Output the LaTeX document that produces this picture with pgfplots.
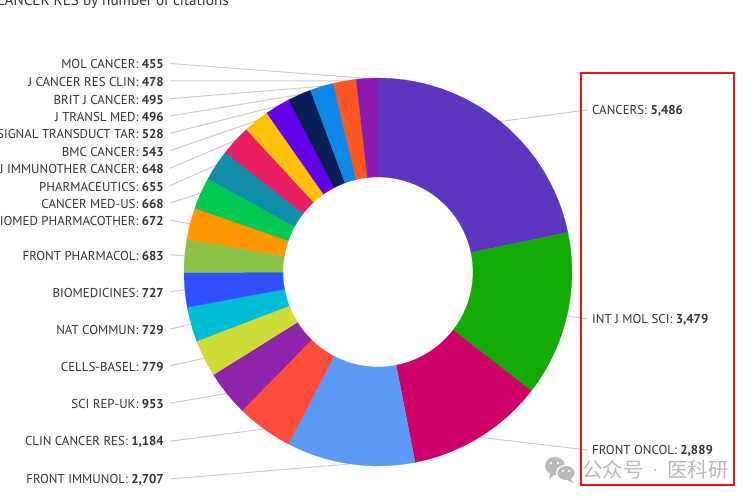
\documentclass[border=0pt]{standalone}
\usepackage{fontspec}
\setmainfont{PT Sans}
\newfontfamily\cjk{Noto Sans CJK SC}
\usepackage{pgfplots}
\pgfplotsset{compat=1.18}

\definecolor{leader}{RGB}{204,204,204}
\definecolor{labeltext}{RGB}{51,51,51}
\definecolor{boxred}{RGB}{232,20,28}
\definecolor{wmark}{RGB}{185,185,185}
\definecolor{s1}{RGB}{94,53,190}
\definecolor{s2}{RGB}{20,170,4}
\definecolor{s3}{RGB}{204,0,102}
\definecolor{s4}{RGB}{92,155,245}
\definecolor{s5}{RGB}{255,77,61}
\definecolor{s6}{RGB}{142,36,170}
\definecolor{s7}{RGB}{205,220,57}
\definecolor{s8}{RGB}{0,188,212}
\definecolor{s9}{RGB}{48,79,254}
\definecolor{s10}{RGB}{139,195,74}
\definecolor{s11}{RGB}{255,152,0}
\definecolor{s12}{RGB}{0,200,83}
\definecolor{s13}{RGB}{15,140,168}
\definecolor{s14}{RGB}{233,30,99}
\definecolor{s15}{RGB}{255,193,7}
\definecolor{s16}{RGB}{98,0,234}
\definecolor{s17}{RGB}{10,31,85}
\definecolor{s18}{RGB}{14,136,232}
\definecolor{s19}{RGB}{255,87,34}
\definecolor{s20}{RGB}{142,24,176}

% Pie geometry in pixels of the 753x500 frame
\def\cx{378}\def\cy{272}\def\ro{194}\def\ri{95}
% total citations 25254, i.e. 70.15 citations per degree (pgfmath overflows on the total itself)
\def\perdeg{70.15}
\xdef\cumangle{0}

% \slice{citations}{colour}{label}{label y}
\newcommand{\slice}[4]{%
  \pgfmathsetmacro\aA{\cumangle}%
  \pgfmathsetmacro\aB{\aA+#1/\perdeg}%
  \xdef\cumangle{\aB}%
  \pgfmathtruncatemacro\nseg{max(2,ceil((\aB-\aA)/4))}%
  \gdef\pts{}%
  \foreach \i in {0,...,\nseg}{%
    \pgfmathsetmacro\a{\aA+(\aB-\aA)*\i/\nseg}%
    \pgfmathsetmacro\px{\cx+\ro*sin(\a)}%
    \pgfmathsetmacro\py{\cy-\ro*cos(\a)}%
    \xdef\pts{\pts(\px,\py)}}%
  \foreach \i in {\nseg,...,0}{%
    \pgfmathsetmacro\a{\aA+(\aB-\aA)*\i/\nseg}%
    \pgfmathsetmacro\px{\cx+\ri*sin(\a)}%
    \pgfmathsetmacro\py{\cy-\ri*cos(\a)}%
    \xdef\pts{\pts(\px,\py)}}%
  \pgfmathsetmacro\am{(\aA+\aB)/2}%
  \pgfmathsetmacro\ex{\cx+\ro*sin(\am)}%
  \pgfmathsetmacro\ey{\cy-\ro*cos(\am)}%
  \pgfmathtruncatemacro\isright{\am<180}%
  \ifnum\isright=1
    \def\lx{592}\def\sx{587}\def\lanchor{west}%
  \else
    \def\lx{164}\def\sx{170}\def\lanchor{east}%
  \fi
  \edef\temp{%
    \noexpand\addplot[leader, line width=1pt, forget plot] coordinates {(\sx,#4) (\ex,\ey)};%
    \noexpand\addplot[fill=#2, draw=#2, line width=0.2pt, forget plot] coordinates {\pts} -- cycle;%
    \noexpand\node[anchor=\lanchor, inner sep=0pt, yshift=-1pt, text=labeltext, font=\noexpand\lblfont]
      at (axis cs:\lx,#4) {\unexpanded{#3}};%
  }\temp
}
\newcommand{\lblfont}{\fontsize{12.9}{14}\selectfont}

\begin{document}
\begin{tikzpicture}
\path[use as bounding box, clip] (0,0) rectangle (753pt,500pt);
\begin{axis}[
    at={(0,0)}, anchor=south west,
    width=753pt, height=500pt, scale only axis,
    xmin=0, xmax=753, ymin=0, ymax=500,
    y dir=reverse,
    hide axis, clip=false,
]
\slice{5486}{s1}{CANCERS: \textbf{5,486}}{110}
\slice{3479}{s2}{INT J MOL SCI: \textbf{3,479}}{319}
\slice{2889}{s3}{FRONT ONCOL: \textbf{2,889}}{450}
\slice{2707}{s4}{FRONT IMMUNOL: \textbf{2,707}}{479}
\slice{1184}{s5}{CLIN CANCER RES: \textbf{1,184}}{441.3}
\slice{953}{s6}{SCI REP-UK: \textbf{953}}{403.3}
\slice{779}{s7}{CELLS-BASEL: \textbf{779}}{365.7}
\slice{729}{s8}{NAT COMMUN: \textbf{729}}{329}
\slice{727}{s9}{BIOMEDICINES: \textbf{727}}{291.7}
\slice{683}{s10}{FRONT PHARMACOL: \textbf{683}}{254.7}
\slice{672}{s11}{BIOMED PHARMACOTHER: \textbf{672}}{220.3}
\slice{668}{s12}{CANCER MED-US: \textbf{668}}{203}
\slice{655}{s13}{PHARMACEUTICS: \textbf{655}}{185.7}
\slice{648}{s14}{J IMMUNOTHER CANCER: \textbf{648}}{168.3}
\slice{543}{s15}{BMC CANCER: \textbf{543}}{150.7}
\slice{528}{s16}{SIGNAL TRANSDUCT TAR: \textbf{528}}{133.3}
\slice{496}{s17}{J TRANSL MED: \textbf{496}}{116}
\slice{495}{s18}{BRIT J CANCER: \textbf{495}}{98.7}
\slice{478}{s19}{J CANCER RES CLIN: \textbf{478}}{81}
\slice{455}{s20}{MOL CANCER: \textbf{455}}{63.5}

% cut-off title at the top edge
\node[anchor=east, inner sep=0pt, text=labeltext, font=\fontsize{15.2}{15.2}\selectfont]
  at (axis cs:229,1.5) {CANCER RES by number of citations};

% red highlight box
\draw[boxred, line width=2.4pt] (axis cs:581,73) rectangle (axis cs:734,485);

% watermark
\fill[wmark] (axis cs:555,466) ellipse [x radius=10pt, y radius=9pt];
\fill[wmark] (axis cs:551,471) -- (axis cs:549,479) -- (axis cs:557,473) -- cycle;
\fill[white] (axis cs:566,473) ellipse [x radius=10pt, y radius=8.5pt];
\fill[wmark] (axis cs:566,473) ellipse [x radius=8.5pt, y radius=7pt];
\fill[wmark] (axis cs:570,477) -- (axis cs:573,483) -- (axis cs:565,479) -- cycle;
\fill[white] (axis cs:551,463) circle [radius=1.3pt];
\fill[white] (axis cs:558,463) circle [radius=1.3pt];
\fill[white] (axis cs:563,471) circle [radius=1.1pt];
\fill[white] (axis cs:569,471) circle [radius=1.1pt];
\node[anchor=west, inner sep=0pt, text=wmark, font=\cjk\fontsize{20.4}{20.4}\selectfont]
  at (axis cs:582,470) {公众号};
\fill[wmark] (axis cs:655,470) circle [radius=1.1pt];
\node[anchor=west, inner sep=0pt, text=wmark, font=\cjk\fontsize{20.4}{20.4}\selectfont]
  at (axis cs:667,470) {医科研};
\end{axis}
\end{tikzpicture}
\end{document}
